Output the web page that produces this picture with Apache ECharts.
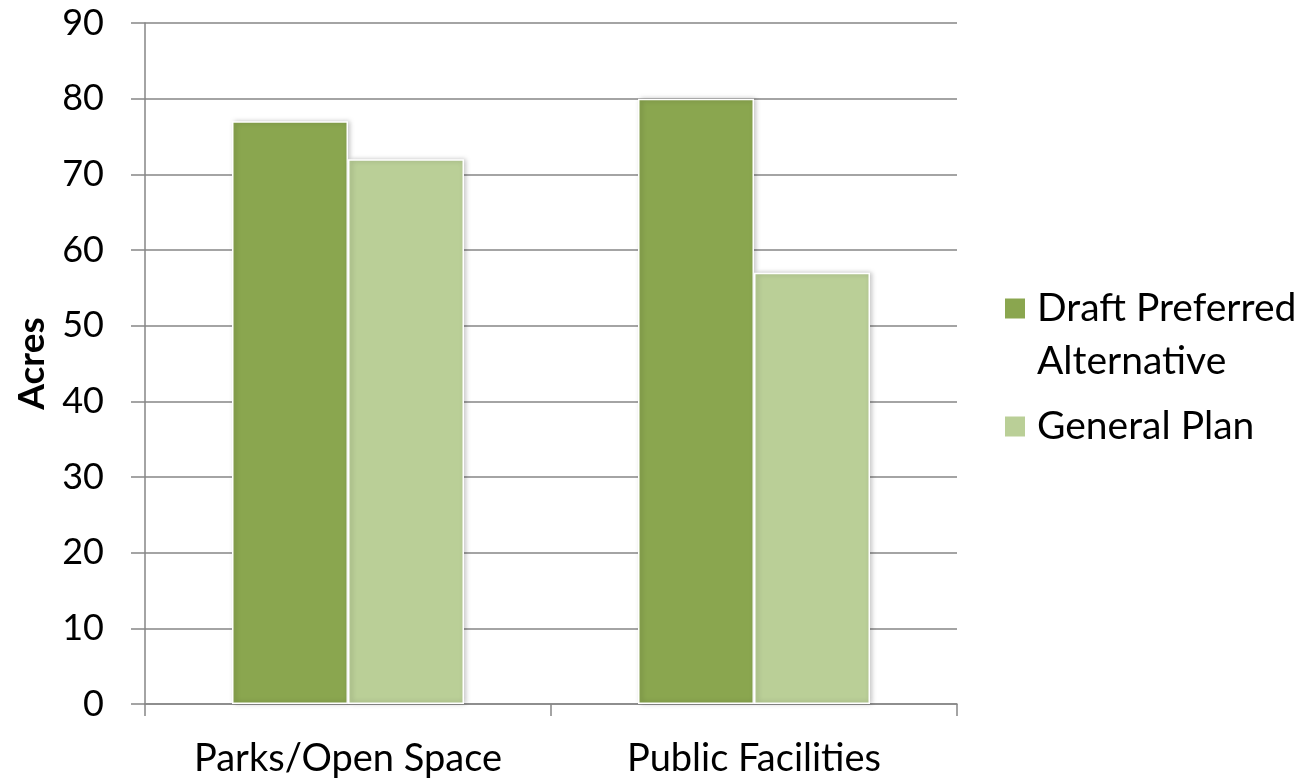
<!DOCTYPE html>
<html>
<head>
<meta charset="utf-8">
<script src="https://cdn.jsdelivr.net/npm/echarts@6/dist/echarts.min.js"></script>
<style>
  html, body { margin: 0; padding: 0; background: #fff; }
  #chart { width: 1305px; height: 778px; }
</style>
</head>
<body>
<div id="chart"></div>
<script>
// Land use acreage by category
const categories = ['Parks/Open Space', 'Public Facilities'];
const draftPreferred = [77, 80];
const generalPlan = [72, 57];
const seriesNames = ['Draft Preferred\nAlternative', 'General Plan'];

const FONT = 'Lato, "Open Sans", sans-serif';
const AXIS_GRAY = '#868686';
const LEGEND_LH = 53;

const legendText = {
  fontSize: 39, color: '#000', fontFamily: FONT,
  lineHeight: LEGEND_LH,
  padding: [0, 0, 0, 6]
};

const chart = echarts.init(document.getElementById('chart'));
chart.setOption({
  animation: false,
  textStyle: { fontFamily: FONT },
  grid: { left: 145, right: 348, top: 23, bottom: 74 },
  legend: [
    {
      // two-line entry: swatch sits level with the first line of text
      left: 1003,
      top: 282,
      padding: 0,
      itemWidth: 22,
      itemHeight: 75,
      icon: 'path://M0,0L22,0L22,22L0,22Z M0,75L0,75',
      textStyle: legendText,
      data: [seriesNames[0]]
    },
    {
      left: 1003,
      top: 400,
      padding: 0,
      itemWidth: 22,
      itemHeight: 22,
      icon: 'rect',
      textStyle: legendText,
      data: [seriesNames[1]]
    }
  ],
  xAxis: {
    type: 'category',
    data: categories,
    axisLine: { lineStyle: { color: AXIS_GRAY, width: 1.5 } },
    axisTick: { show: true, length: 12, lineStyle: { color: AXIS_GRAY, width: 1.5 } },
    axisLabel: { fontSize: 38, color: '#000', margin: 36, fontFamily: FONT }
  },
  yAxis: {
    type: 'value',
    min: 0,
    max: 90,
    interval: 10,
    name: 'Acres',
    nameLocation: 'middle',
    nameGap: 94,
    nameTextStyle: { fontSize: 37, fontWeight: 'bold', color: '#000', fontFamily: FONT },
    axisLine: { show: true, lineStyle: { color: AXIS_GRAY, width: 1.5 } },
    axisTick: { show: true, length: 14, lineStyle: { color: AXIS_GRAY, width: 1.5 } },
    splitLine: { lineStyle: { color: AXIS_GRAY, width: 1.5 } },
    axisLabel: { fontSize: 36, color: '#000', margin: 41, fontFamily: FONT }
  },
  series: [
    {
      name: seriesNames[0],
      type: 'bar',
      data: draftPreferred,
      barWidth: 116,
      barGap: '0%',
      itemStyle: {
        color: '#8AA64F',
        borderColor: '#ffffff',
        borderWidth: 1.5,
        shadowBlur: 5,
        shadowColor: 'rgba(0,0,0,0.25)',
        shadowOffsetX: 2
      }
    },
    {
      name: seriesNames[1],
      type: 'bar',
      data: generalPlan,
      barWidth: 116,
      barGap: '0%',
      itemStyle: {
        color: '#BACF97',
        borderColor: '#ffffff',
        borderWidth: 1.5,
        shadowBlur: 5,
        shadowColor: 'rgba(0,0,0,0.25)',
        shadowOffsetX: 2
      }
    }
  ]
});
</script>
</body>
</html>
